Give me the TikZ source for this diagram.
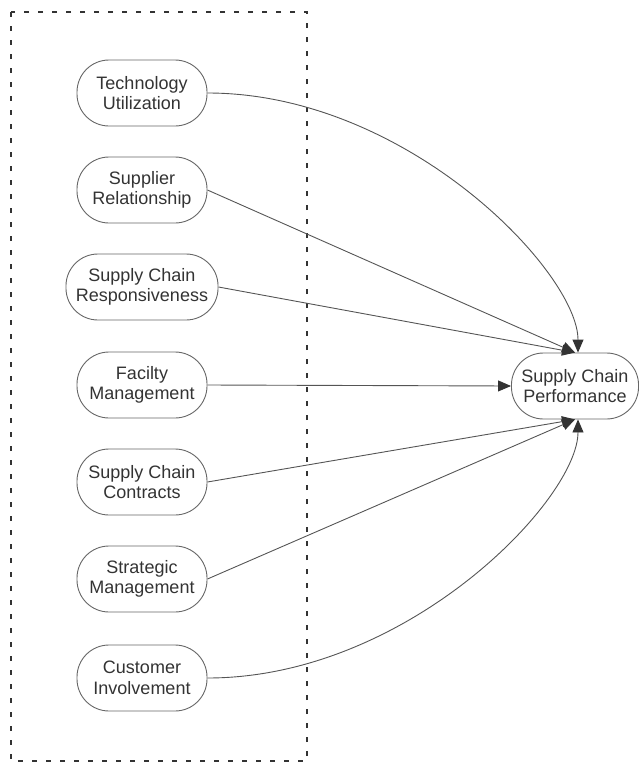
\documentclass[tikz,border=0pt]{standalone}
\usepackage{fontspec}
\setmainfont{Liberation Sans}
\usetikzlibrary{arrows.meta}
\definecolor{ink}{HTML}{333333}
\definecolor{edge}{HTML}{555555}
\definecolor{rim}{HTML}{666666}
\begin{document}
\begin{tikzpicture}[x=1pt,y=-1pt,
  factor/.style={draw=rim,line width=0.9pt,rounded corners=32pt,
    minimum width=130pt,minimum height=66pt,inner xsep=10pt,
    align=center,text=ink,font=\fontsize{18}{20.5}\selectfont},
  link/.style={draw=edge,line width=0.9pt,
    -{Triangle[length=13pt,width=11pt,color=ink]}},
  group/.style={draw=ink,line width=2pt,dash pattern=on 5pt off 9pt}]
\useasboundingbox (0,0) rectangle (643,763);
% grouping frame around the factors
\draw[group] (11,12) rectangle (307,761);
% factors
\node[factor] (tech) at (142,93)  {Technology\\Utilization};
\node[factor] (supp) at (142,190) {Supplier\\Relationship};
\node[factor] (resp) at (142,287) {Supply Chain\\Responsiveness};
\node[factor] (faci) at (142,385) {Facilty\\Management};
\node[factor] (cont) at (142,482) {Supply Chain\\Contracts};
\node[factor] (stra) at (142,579) {Strategic\\Management};
\node[factor] (cust) at (142,678) {Customer\\Involvement};
% outcome
\node[factor,minimum width=124pt] (perf) at (575,386) {Supply Chain\\Performance};
% effects
\draw[link] (tech.east) .. controls +(200,0) and +(0,-80) .. ([xshift=3pt]perf.north);
\draw[link] (supp.east) -- (perf.north);
\draw[link] (resp.east) -- (perf.north);
\draw[link] (faci.east) -- (perf.west);
\draw[link] (cont.east) -- (perf.south);
\draw[link] (stra.east) -- (perf.south);
\draw[link] (cust.east) .. controls +(200,0) and +(0,80) .. ([xshift=3pt]perf.south);
\end{tikzpicture}
\end{document}
